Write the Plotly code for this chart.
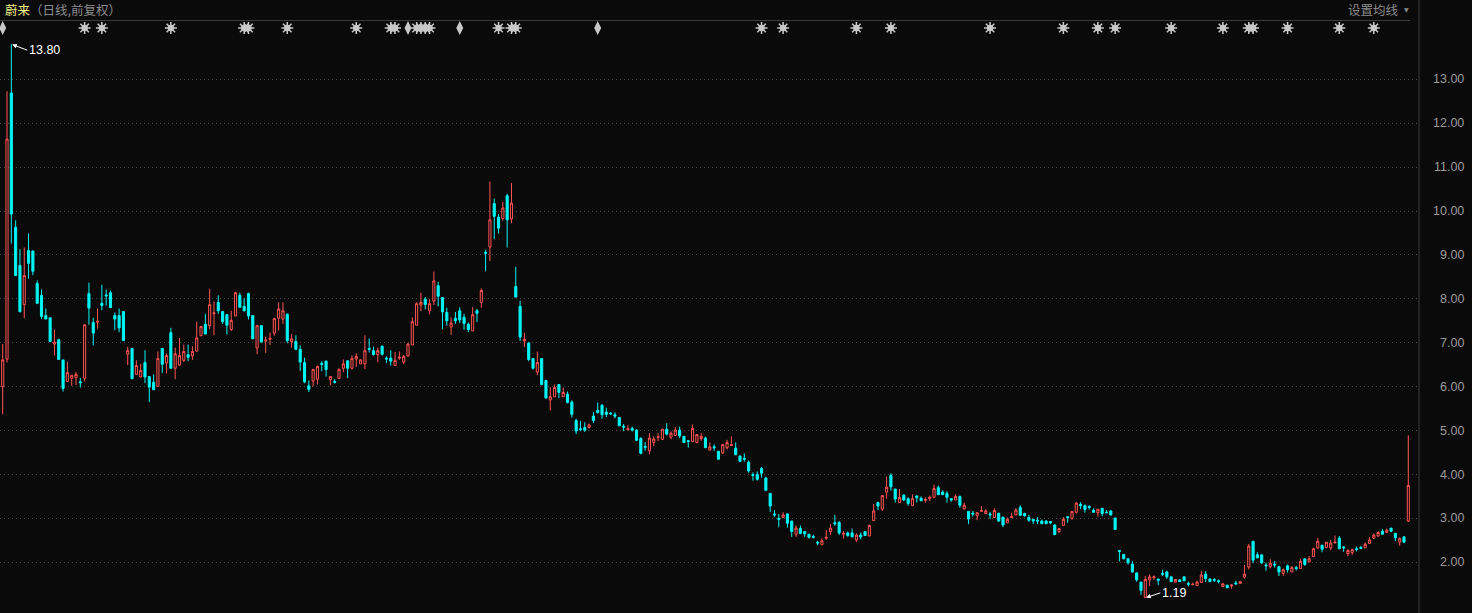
import plotly.graph_objects as go

# ---------------- data ----------------
opens = [
    6.00, 6.63, 12.69, 9.63, 8.76, 7.87, 9.10, 9.09, 8.35, 8.08,
    7.62, 7.57, 6.97, 7.07, 6.61, 6.12, 6.19, 6.21, 6.11, 6.19,
    8.12, 7.46, 7.47, 7.90, 8.09, 8.14, 7.62, 7.62, 7.71, 6.74,
    6.87, 6.28, 6.22, 6.55, 6.23, 6.10, 6.01, 6.87, 6.54, 7.23,
    6.42, 6.49, 6.60, 6.73, 6.70, 6.81, 7.16, 7.42, 7.39, 7.66,
    7.92, 7.71, 7.64, 7.30, 7.61, 8.08, 7.83, 8.12, 7.62, 6.88,
    7.39, 7.04, 7.08, 7.22, 7.56, 7.54, 7.65, 7.03, 7.03, 6.85,
    6.55, 6.02, 6.13, 6.17, 6.53, 6.58, 6.16, 6.12, 6.19, 6.42,
    6.59, 6.42, 6.63, 6.52, 6.52, 6.87, 6.82, 6.73, 6.92, 6.65,
    6.65, 6.48, 6.65, 6.56, 6.70, 6.95, 7.40, 7.86, 7.99, 7.73,
    7.95, 8.30, 8.03, 7.69, 7.36, 7.56, 7.73, 7.58, 7.42, 7.27,
    7.73, 7.92, 9.06, 9.18, 10.17, 9.86, 9.83, 10.35, 9.82, 8.28,
    7.83, 7.04, 6.99, 6.64, 6.33, 6.64, 6.14, 5.70, 5.77, 6.05,
    5.77, 5.83, 5.65, 5.23, 5.04, 5.07, 5.07, 5.33, 5.46, 5.58,
    5.42, 5.40, 5.36, 5.30, 5.10, 5.02, 5.05, 5.01, 4.82, 4.64,
    4.54, 4.73, 4.84, 4.80, 5.03, 4.85, 4.89, 5.01, 4.87, 4.77,
    4.75, 4.73, 4.82, 4.83, 4.56, 4.63, 4.53, 4.49, 4.61, 4.66,
    4.60, 4.42, 4.37, 4.28, 4.00, 4.00, 4.14, 3.92, 3.57, 3.10,
    3.00, 3.02, 3.10, 2.94, 2.64, 2.77, 2.70, 2.64, 2.59, 2.46,
    2.40, 2.55, 2.70, 2.90, 2.91, 2.64, 2.67, 2.67, 2.51, 2.62,
    2.70, 2.60, 2.95, 3.36, 3.21, 3.60, 3.98, 3.67, 3.36, 3.53,
    3.45, 3.29, 3.51, 3.46, 3.41, 3.45, 3.48, 3.70, 3.60, 3.57,
    3.45, 3.42, 3.50, 3.22, 3.16, 3.12, 3.06, 3.16, 3.11, 3.10,
    3.02, 3.12, 3.03, 2.90, 3.02, 3.08, 3.25, 3.11, 3.02, 2.98,
    2.96, 2.94, 2.94, 2.93, 2.85, 2.70, 2.84, 3.04, 3.00, 3.14,
    3.32, 3.29, 3.27, 3.19, 3.13, 3.23, 3.14, 3.17, 3.01, 2.27,
    2.18, 2.08, 1.96, 1.76, 1.55, 1.20, 1.60, 1.65, 1.62, 1.75,
    1.78, 1.67, 1.55, 1.60, 1.67, 1.52, 1.49, 1.47, 1.54, 1.73,
    1.62, 1.61, 1.58, 1.45, 1.48, 1.46, 1.53, 1.52, 1.66, 1.89,
    2.48, 2.17, 2.17, 1.94, 1.90, 1.96, 1.90, 1.75, 1.92, 1.78,
    1.88, 1.86, 2.08, 2.01, 2.13, 2.33, 2.39, 2.34, 2.33, 2.44,
    2.55, 2.35, 2.20, 2.22, 2.31, 2.34, 2.33, 2.43, 2.55, 2.60,
    2.71, 2.68, 2.78, 2.66, 2.46, 2.58, 2.94,
]
highs = [
    6.97, 12.73, 13.80, 9.79, 9.13, 9.17, 9.49, 9.10, 8.42, 8.21,
    7.78, 7.58, 7.30, 7.09, 6.61, 6.57, 6.26, 6.33, 6.20, 7.41,
    8.37, 7.57, 7.78, 8.32, 8.21, 8.19, 7.69, 7.78, 7.71, 6.91,
    6.87, 6.60, 6.52, 6.83, 6.23, 6.28, 6.80, 6.87, 6.76, 7.34,
    6.89, 7.11, 6.96, 6.96, 6.92, 7.48, 7.37, 7.66, 8.23, 7.94,
    8.08, 7.72, 7.64, 7.73, 8.16, 8.14, 8.02, 8.14, 7.62, 7.39,
    7.39, 7.14, 7.23, 7.57, 7.92, 7.92, 7.67, 7.20, 7.17, 6.94,
    6.66, 6.14, 6.39, 6.48, 6.58, 6.60, 6.23, 6.17, 6.42, 6.62,
    6.59, 6.71, 6.76, 6.62, 7.17, 7.10, 6.91, 6.89, 6.94, 6.69,
    6.83, 6.79, 6.80, 6.72, 6.99, 7.58, 7.92, 8.14, 8.04, 7.99,
    8.62, 8.39, 8.04, 7.80, 7.58, 7.70, 7.81, 7.66, 7.46, 7.81,
    7.77, 8.24, 9.12, 10.67, 10.28, 9.93, 10.21, 10.39, 10.64, 8.73,
    7.96, 7.23, 7.02, 6.64, 6.80, 6.65, 6.16, 5.99, 6.05, 6.05,
    5.98, 5.89, 5.69, 5.27, 5.22, 5.19, 5.16, 5.42, 5.64, 5.60,
    5.52, 5.42, 5.42, 5.30, 5.15, 5.12, 5.09, 5.03, 4.85, 4.74,
    4.94, 4.87, 4.94, 5.04, 5.17, 4.98, 5.08, 5.09, 4.87, 4.78,
    5.14, 4.92, 4.94, 4.86, 4.73, 4.69, 4.53, 4.70, 4.79, 4.87,
    4.73, 4.44, 4.48, 4.32, 4.05, 4.07, 4.17, 3.95, 3.57, 3.19,
    3.10, 3.14, 3.12, 2.94, 2.84, 2.84, 2.70, 2.64, 2.63, 2.49,
    2.55, 2.73, 2.87, 3.08, 2.94, 2.71, 2.70, 2.77, 2.66, 2.68,
    2.70, 2.86, 3.33, 3.38, 3.52, 3.95, 4.03, 3.67, 3.67, 3.55,
    3.48, 3.55, 3.53, 3.50, 3.48, 3.52, 3.77, 3.75, 3.64, 3.62,
    3.45, 3.55, 3.52, 3.36, 3.16, 3.17, 3.13, 3.28, 3.21, 3.15,
    3.23, 3.12, 3.03, 3.02, 3.13, 3.23, 3.30, 3.13, 3.08, 2.98,
    3.03, 2.97, 2.96, 2.93, 2.87, 2.77, 3.03, 3.04, 3.16, 3.37,
    3.37, 3.32, 3.30, 3.23, 3.21, 3.23, 3.19, 3.19, 3.01, 2.28,
    2.18, 2.10, 2.03, 1.76, 1.55, 1.69, 1.73, 1.70, 1.62, 1.83,
    1.81, 1.67, 1.62, 1.61, 1.67, 1.56, 1.54, 1.58, 1.80, 1.80,
    1.64, 1.64, 1.61, 1.53, 1.48, 1.50, 1.58, 1.56, 1.94, 2.42,
    2.48, 2.23, 2.17, 1.99, 2.07, 2.03, 1.92, 1.86, 1.95, 1.92,
    1.92, 2.08, 2.08, 2.14, 2.33, 2.55, 2.39, 2.46, 2.51, 2.61,
    2.60, 2.37, 2.30, 2.31, 2.36, 2.37, 2.45, 2.57, 2.66, 2.71,
    2.76, 2.77, 2.78, 2.66, 2.57, 2.58, 4.89,
]
lows = [
    5.37, 6.55, 9.26, 8.53, 7.69, 7.56, 8.46, 8.54, 7.88, 7.54,
    7.54, 7.01, 6.71, 6.62, 5.89, 6.12, 6.02, 6.04, 5.98, 6.12,
    7.41, 6.94, 7.32, 7.74, 7.85, 7.80, 7.29, 7.24, 7.05, 6.49,
    6.17, 6.28, 6.22, 6.08, 5.65, 5.93, 6.00, 6.31, 6.30, 6.42,
    6.17, 6.49, 6.56, 6.58, 6.61, 6.81, 7.16, 7.20, 7.31, 7.17,
    7.66, 7.43, 7.19, 7.27, 7.61, 7.79, 7.71, 7.53, 7.09, 6.74,
    7.00, 6.77, 6.95, 7.16, 7.28, 7.43, 6.99, 6.89, 6.84, 6.36,
    6.08, 5.88, 6.00, 6.05, 6.35, 6.23, 6.03, 6.07, 6.18, 6.33,
    6.20, 6.39, 6.45, 6.52, 6.40, 6.78, 6.71, 6.56, 6.71, 6.54,
    6.48, 6.48, 6.61, 6.52, 6.68, 6.95, 7.40, 7.72, 7.76, 7.65,
    7.86, 7.83, 7.31, 7.39, 7.18, 7.43, 7.45, 7.30, 7.24, 7.27,
    7.47, 7.80, 8.63, 8.86, 9.36, 9.49, 9.78, 9.17, 9.72, 8.04,
    7.04, 6.90, 6.58, 6.39, 6.26, 6.03, 5.74, 5.46, 5.77, 5.74,
    5.77, 5.62, 5.30, 4.92, 5.00, 4.97, 5.05, 5.17, 5.39, 5.27,
    5.31, 5.36, 5.28, 5.11, 4.99, 5.01, 4.98, 4.76, 4.46, 4.54,
    4.46, 4.64, 4.76, 4.79, 4.89, 4.80, 4.89, 4.83, 4.73, 4.61,
    4.75, 4.71, 4.77, 4.61, 4.54, 4.54, 4.33, 4.47, 4.57, 4.65,
    4.45, 4.29, 4.29, 4.04, 3.86, 3.86, 3.93, 3.62, 3.15, 3.04,
    2.80, 3.02, 2.79, 2.58, 2.58, 2.64, 2.58, 2.54, 2.54, 2.39,
    2.39, 2.51, 2.62, 2.83, 2.62, 2.54, 2.58, 2.58, 2.46, 2.52,
    2.61, 2.60, 2.95, 3.19, 3.17, 3.45, 3.63, 3.36, 3.36, 3.40,
    3.29, 3.29, 3.36, 3.40, 3.36, 3.40, 3.48, 3.54, 3.54, 3.36,
    3.38, 3.42, 3.24, 3.20, 2.87, 3.04, 2.96, 3.15, 3.11, 2.99,
    3.02, 2.92, 2.80, 2.90, 3.01, 3.08, 3.07, 3.04, 2.92, 2.87,
    2.87, 2.88, 2.88, 2.87, 2.63, 2.67, 2.84, 2.90, 2.97, 3.11,
    3.21, 3.13, 3.20, 3.13, 3.04, 3.05, 3.13, 3.06, 2.74, 2.02,
    2.07, 1.95, 1.77, 1.56, 1.26, 1.19, 1.46, 1.60, 1.48, 1.69,
    1.62, 1.55, 1.54, 1.56, 1.58, 1.45, 1.48, 1.47, 1.54, 1.55,
    1.56, 1.55, 1.52, 1.44, 1.42, 1.40, 1.49, 1.52, 1.63, 1.84,
    1.98, 2.10, 1.96, 1.81, 1.86, 1.88, 1.69, 1.69, 1.77, 1.78,
    1.81, 1.86, 1.92, 2.01, 2.13, 2.31, 2.23, 2.32, 2.28, 2.44,
    2.30, 2.24, 2.14, 2.17, 2.25, 2.30, 2.33, 2.43, 2.53, 2.58,
    2.64, 2.68, 2.69, 2.48, 2.38, 2.44, 2.92,
]
closes = [
    6.61, 11.64, 9.93, 8.53, 7.71, 8.53, 8.81, 8.63, 7.90, 7.60,
    7.54, 7.03, 7.01, 6.62, 5.96, 6.32, 6.26, 6.28, 6.09, 7.41,
    7.79, 7.22, 7.49, 7.85, 8.07, 7.80, 7.54, 7.34, 7.05, 6.82,
    6.18, 6.48, 6.37, 6.22, 5.99, 5.93, 6.64, 6.51, 6.71, 6.42,
    6.75, 6.71, 6.80, 6.67, 6.80, 7.11, 7.37, 7.20, 7.87, 7.68,
    7.73, 7.48, 7.40, 7.51, 8.14, 7.81, 7.73, 7.61, 7.09, 7.39,
    7.02, 7.06, 7.10, 7.55, 7.77, 7.73, 7.05, 7.09, 6.85, 6.56,
    6.11, 5.94, 6.39, 6.46, 6.51, 6.39, 6.23, 6.10, 6.39, 6.52,
    6.42, 6.64, 6.69, 6.61, 6.82, 6.85, 6.73, 6.82, 6.74, 6.63,
    6.58, 6.60, 6.67, 6.69, 6.97, 7.48, 7.89, 7.92, 7.87, 7.89,
    8.41, 8.06, 7.70, 7.50, 7.45, 7.50, 7.52, 7.44, 7.30, 7.64,
    7.67, 8.19, 9.04, 9.80, 9.88, 9.61, 10.07, 9.80, 10.18, 8.04,
    7.13, 7.08, 6.62, 6.42, 6.55, 6.05, 5.74, 5.77, 5.98, 5.87,
    5.87, 5.64, 5.37, 4.99, 5.02, 5.01, 5.13, 5.23, 5.41, 5.36,
    5.37, 5.38, 5.33, 5.11, 5.08, 5.04, 5.01, 4.78, 4.48, 4.62,
    4.83, 4.81, 4.86, 5.03, 4.92, 4.94, 5.01, 4.88, 4.73, 4.75,
    5.05, 4.91, 4.87, 4.61, 4.63, 4.61, 4.35, 4.68, 4.73, 4.68,
    4.45, 4.30, 4.35, 4.08, 3.98, 3.89, 4.03, 3.64, 3.28, 3.08,
    2.98, 3.08, 2.89, 2.70, 2.78, 2.66, 2.65, 2.57, 2.57, 2.44,
    2.49, 2.57, 2.78, 2.88, 2.67, 2.66, 2.61, 2.58, 2.62, 2.58,
    2.61, 2.84, 3.17, 3.28, 3.52, 3.71, 3.72, 3.44, 3.48, 3.42,
    3.34, 3.45, 3.47, 3.40, 3.43, 3.48, 3.68, 3.54, 3.54, 3.48,
    3.42, 3.50, 3.30, 3.30, 2.99, 3.10, 3.13, 3.18, 3.17, 3.08,
    3.18, 2.94, 2.85, 2.98, 3.04, 3.19, 3.07, 3.06, 2.96, 2.94,
    2.94, 2.88, 2.88, 2.90, 2.63, 2.77, 2.98, 3.02, 3.16, 3.35,
    3.29, 3.20, 3.25, 3.14, 3.21, 3.11, 3.13, 3.08, 2.75, 2.25,
    2.08, 1.99, 1.78, 1.60, 1.36, 1.61, 1.67, 1.67, 1.59, 1.73,
    1.67, 1.56, 1.61, 1.56, 1.58, 1.50, 1.50, 1.55, 1.71, 1.63,
    1.56, 1.59, 1.56, 1.51, 1.42, 1.48, 1.51, 1.56, 1.73, 2.37,
    2.05, 2.10, 1.99, 1.92, 1.98, 1.94, 1.78, 1.83, 1.83, 1.88,
    1.86, 2.02, 1.95, 2.08, 2.31, 2.48, 2.30, 2.46, 2.44, 2.46,
    2.31, 2.33, 2.27, 2.29, 2.29, 2.32, 2.41, 2.51, 2.62, 2.68,
    2.64, 2.73, 2.71, 2.56, 2.54, 2.46, 3.75,
]
day_index = list(range(1, len(closes) + 1))

# event markers along the top (candle index)
star_events = [20, 24, 40, 57, 58, 67, 83, 91, 92, 97, 98, 99, 100, 116, 119, 120,
               177, 182, 199, 207, 230, 247, 255, 259, 272, 284, 290, 291, 299, 311, 319]
arrow_events = [1, 95, 107, 139]

y_ticks = [2, 3, 4, 5, 6, 7, 8, 9, 10, 11, 12, 13]
y_tick_labels = [f"{v:.2f}" for v in y_ticks]

high_idx = highs.index(max(highs)) + 1
low_idx = lows.index(min(lows)) + 1

# ---------------- styling ----------------
BG = "#0a0a0a"
RED = "#ff5454"
CYAN = "#00f5f5"
GRID = "#4a4a4a"
GREY_TXT = "#9a9a9a"
MARK = "#c8c8c8"

W, H = 1472, 613
ML, MR, MT, MB = 0, 53, 21, 0
plot_w = W - ML - MR
plot_h = H - MT - MB

X_RANGE = [0.3738, 329.48]
Y_RANGE = [0.846, 14.328]
marker_row = Y_RANGE[1] - (28 - MT) * (Y_RANGE[1] - Y_RANGE[0]) / plot_h

fig = go.Figure()
fig.add_trace(go.Candlestick(
    x=day_index, open=opens, high=highs, low=lows, close=closes,
    increasing=dict(line=dict(color=RED, width=1), fillcolor=BG),
    decreasing=dict(line=dict(color=CYAN, width=1), fillcolor=CYAN),
    whiskerwidth=0, hoverinfo="x+y", showlegend=False,
))
fig.add_trace(go.Scatter(
    x=star_events, y=[marker_row] * len(star_events), mode="markers",
    marker=dict(symbol="asterisk-open", size=10, color=MARK, line=dict(color=MARK, width=1.5)),
    hoverinfo="skip", showlegend=False,
))
fig.add_trace(go.Scatter(
    x=star_events, y=[marker_row] * len(star_events), mode="markers",
    marker=dict(symbol="circle", size=6.5, color=MARK, line=dict(width=0)),
    hoverinfo="skip", showlegend=False,
))
fig.add_trace(go.Scatter(
    x=arrow_events, y=[marker_row] * len(arrow_events), mode="markers",
    marker=dict(symbol="diamond-tall", size=10, color=MARK, line=dict(width=0)),
    hoverinfo="skip", showlegend=False,
))

annotations = []
for v, lab in zip(y_ticks, y_tick_labels):
    annotations.append(dict(
        x=1466 / plot_w, xref="paper", y=v, yref="y", text=lab, showarrow=False,
        xanchor="right", yanchor="middle",
        font=dict(family="Liberation Sans, Arial", size=12.5, color=GREY_TXT),
    ))

# high / low labels
annotations.append(dict(
    x=high_idx, y=max(highs), xref="x", yref="y", text=f"{max(highs):.2f}",
    showarrow=True, arrowhead=2, arrowsize=0.9, arrowwidth=1, arrowcolor="#ffffff",
    ax=16, ay=6, xanchor="left", yanchor="middle", standoff=1,
    font=dict(family="Liberation Sans, Arial", size=12.5, color="#ffffff"),
))
annotations.append(dict(
    x=low_idx, y=min(lows), xref="x", yref="y", text=f"{min(lows):.2f}",
    showarrow=True, arrowhead=2, arrowsize=0.9, arrowwidth=1, arrowcolor="#ffffff",
    ax=15, ay=-5, xanchor="left", yanchor="middle", standoff=1,
    font=dict(family="Liberation Sans, Arial", size=12.5, color="#ffffff"),
))

# header
annotations.append(dict(
    x=3 / plot_w, xref="paper", y=(H - MB - 10) / plot_h, yref="paper",
    text="<span style='color:#eeee88'>蔚来</span><span style='color:#8c8c8c'>（日线,前复权）</span>",
    showarrow=False, xanchor="left", yanchor="middle",
    font=dict(family="Noto Sans CJK SC", size=12.5, color="#8c8c8c"),
))
annotations.append(dict(
    x=1401 / plot_w, xref="paper", y=(H - MB - 10) / plot_h, yref="paper",
    text="设置均线", showarrow=False, xanchor="right", yanchor="middle",
    font=dict(family="Noto Sans CJK SC", size=12.5, color="#8c8c8c"),
))
annotations.append(dict(
    x=1406.5 / plot_w, xref="paper", y=(H - MB - 10) / plot_h, yref="paper",
    text="▼", showarrow=False, xanchor="center", yanchor="middle",
    font=dict(family="DejaVu Sans", size=6, color="#8c8c8c"),
))

shapes = [
    dict(type="line", xref="paper", yref="paper", x0=0, x1=1410 / plot_w,
         y0=(H - MB - 20.5) / plot_h, y1=(H - MB - 20.5) / plot_h,
         line=dict(color="#3a3a3a", width=1)),
    dict(type="line", xref="paper", yref="paper", x0=1.0, x1=1.0,
         y0=0, y1=(H - MB) / plot_h, line=dict(color="#3c3c3c", width=1)),
]

fig.update_layout(
    width=W, height=H,
    margin=dict(l=ML, r=MR, t=MT, b=MB, pad=0),
    paper_bgcolor=BG, plot_bgcolor=BG,
    showlegend=False,
    annotations=annotations, shapes=shapes,
    xaxis=dict(range=X_RANGE, visible=False, rangeslider=dict(visible=False),
               showgrid=False, zeroline=False, fixedrange=True),
    yaxis=dict(range=Y_RANGE, tickvals=y_ticks, showticklabels=False, ticks="",
               showgrid=True, gridcolor=GRID, gridwidth=1, griddash="1px,3px",
               zeroline=False, showline=False, fixedrange=True),
    hovermode=False,
)

fig.write_html(
    "out.html",
    config={"displayModeBar": False},
    post_script="document.body.style.margin='0';document.body.style.background='#0a0a0a';"
                "document.documentElement.style.overflow='hidden';",
)
